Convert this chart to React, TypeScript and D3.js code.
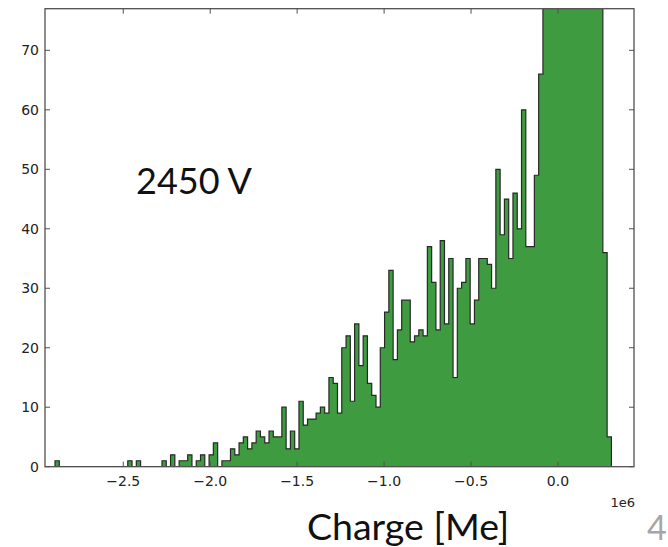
import React from "react";
import * as d3 from "d3";

// Histogram of charge (units of 1e6 electrons)
const binStart = -2.8925;
const binEnd = 0.3071;
const counts: number[] = [
  1, 0, 0, 0, 0, 0, 0, 0, 0, 0, // 0-9
  0, 0, 0, 0, 0, 0, 0, 1, 0, 1, // 10-19
  0, 0, 0, 0, 0, 1, 0, 2, 0, 1, // 20-29
  1, 2, 0, 1, 2, 0, 2, 4, 0, 1, // 30-39
  1, 3, 2, 4, 5, 3, 4, 6, 5, 4, // 40-49
  6, 5, 5, 10, 3, 6, 3, 11, 7, 8, // 50-59
  8, 9, 10, 9, 15, 14, 9, 20, 22, 11, // 60-69
  24, 17, 22, 14, 12, 10, 20, 26, 33, 18, // 70-79
  23, 28, 28, 21, 22, 23, 22, 37, 31, 23, // 80-89
  38, 24, 35, 15, 30, 31, 35, 24, 28, 35, // 90-99
  35, 34, 30, 50, 39, 45, 35, 46, 40, 60, // 100-109
  37, 37, 49, 66, 96, 130, 165, 190, 215, 232, // 110-119
  241, 236, 222, 201, 172, 140, 108, 84, 36, 5, // 120-129
];
const yTicks = [0, 10, 20, 30, 40, 50, 60, 70];
const xTicks = [-2.5, -2.0, -1.5, -1.0, -0.5, 0.0];
const annotation = "2450 V";
const xTitle = "Charge [Me]";
const offsetLabel = "1e6";
const pageNumber = "4";

const W = 668;
const H = 547;
const left = 45;
const right = 634;
const top = 8.7;
const bottom = 466.7;

export default function App() {
  const x = d3.scaleLinear().domain([-2.95, 0.437]).range([left, right]);
  const y = d3.scaleLinear().domain([0, 77]).range([bottom, top]);
  const binW = (binEnd - binStart) / counts.length;
  const pts = counts.map((c, i) => ({ e: binStart + i * binW, c }));
  pts.push({ e: binEnd, c: counts[counts.length - 1] });
  const area = d3
    .area<{ e: number; c: number }>()
    .curve(d3.curveStepAfter)
    .x((d) => x(d.e))
    .y0(y(0))
    .y1((d) => y(d.c));
  const path = area(pts) || "";
  const fmt = (v: number) => (v < 0 ? "\u2212" : "") + Math.abs(v).toFixed(1);
  const tickLen = 5;
  const axisColor = "#505050";
  const labelFont = "DejaVu Sans, sans-serif";
  return (
    <svg
      width={W}
      height={H}
      style={{ position: "absolute", left: 0, top: 0, background: "#fff" }}
    >
      <defs>
        <clipPath id="plot">
          <rect x={left} y={top} width={right - left} height={bottom - top} />
        </clipPath>
      </defs>
      <g clipPath="url(#plot)">
        <path d={path} fill="#3e9b40" stroke="#262a26" strokeWidth={1.2} />
      </g>
      {/* frame */}
      <rect
        x={left}
        y={top}
        width={right - left}
        height={bottom - top}
        fill="none"
        stroke={axisColor}
        strokeWidth={1.3}
      />
      {/* y ticks */}
      {yTicks.map((t) => (
        <g key={"y" + t}>
          <line x1={left} x2={left + tickLen} y1={y(t)} y2={y(t)} stroke={axisColor} />
          <line x1={right} x2={right - tickLen} y1={y(t)} y2={y(t)} stroke={axisColor} />
          <text
            x={left - 6}
            y={y(t)}
            textAnchor="end"
            dominantBaseline="central"
            fontFamily={labelFont}
            fontSize={14}
            fill="#222"
          >
            {t}
          </text>
        </g>
      ))}
      {/* x ticks */}
      {xTicks.map((t) => (
        <g key={"x" + t}>
          <line x1={x(t)} x2={x(t)} y1={bottom} y2={bottom - tickLen} stroke={axisColor} />
          <line x1={x(t)} x2={x(t)} y1={top} y2={top + tickLen} stroke={axisColor} />
          <text
            x={x(t)}
            y={486}
            textAnchor="middle"
            fontFamily={labelFont}
            fontSize={14}
            fill="#222"
          >
            {fmt(t)}
          </text>
        </g>
      ))}
      <text
        x={right + 1}
        y={507}
        textAnchor="end"
        fontFamily={labelFont}
        fontSize={13}
        fill="#222"
      >
        {offsetLabel}
      </text>
      <text x={136} y={193.5} fontFamily="Lato, sans-serif" fontSize={36} fill="#111">
        {annotation}
      </text>
      <text x={307} y={540} fontFamily="Lato, sans-serif" fontSize={37.5} fill="#111">
        {xTitle}
      </text>
      <text x={647} y={540} fontFamily="Lato, sans-serif" fontSize={34} fill="#a6a6a6">
        {pageNumber}
      </text>
    </svg>
  );
}
